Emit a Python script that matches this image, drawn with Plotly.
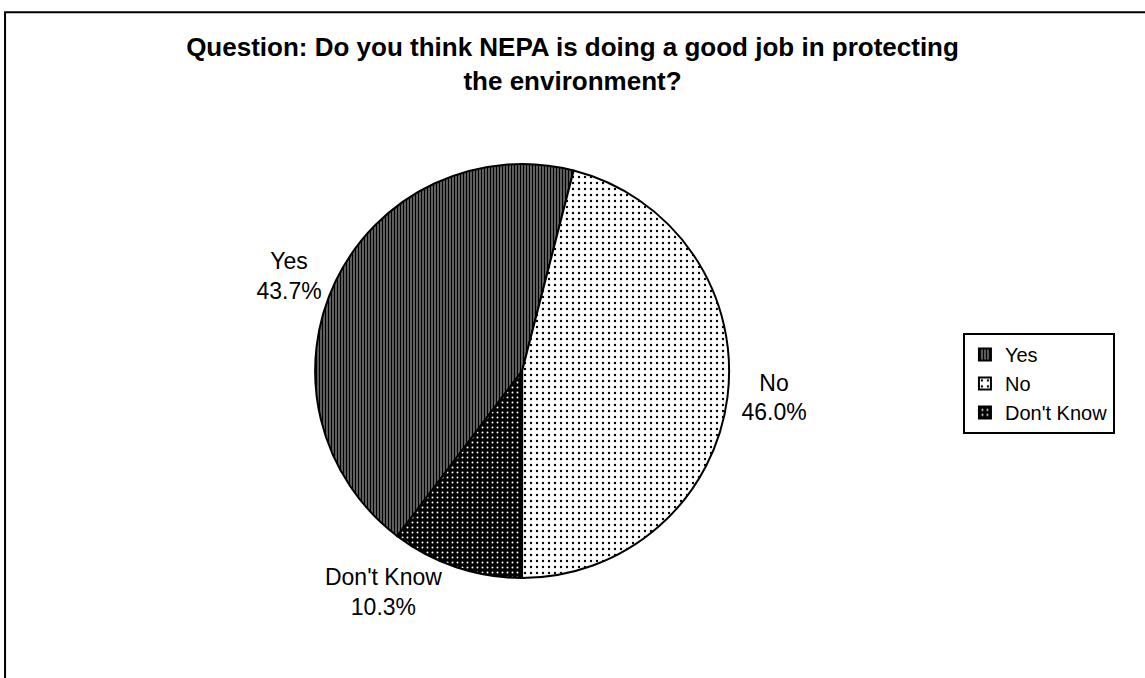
import plotly.graph_objects as go

labels = ["Yes", "No", "Don't Know"]
values = [43.7, 46.0, 10.3]
title_text = "Question: Do you think NEPA is doing a good job in protecting<br>the environment?"

FONT = "Liberation Sans, Arial, sans-serif"

fig = go.Figure()
fig.add_trace(go.Pie(
    labels=labels,
    values=values,
    sort=False,
    direction="clockwise",
    rotation=217.1,
    textposition="outside",
    texttemplate="%{label}<br>%{value:.1f}%",
    textfont=dict(family=FONT, size=23, color="black"),
    hoverinfo="label+percent",
    marker=dict(
        colors=["#555555", "white", "black"],
        line=dict(color="black", width=2),
        pattern=dict(
            shape=["|", ".", "."],
            fgcolor=["black", "black", "white"],
            bgcolor=["#8a8a8a", "white", "black"],
            size=[3, 6, 5],
            solidity=[0.55, 0.12, 0.12],
            fillmode="replace",
        ),
    ),
    domain=dict(x=[0.275, 0.637], y=[0.1475, 0.7581]),
    showlegend=True,
))

fig.update_layout(
    width=1145,
    height=678,
    margin=dict(l=0, r=0, t=0, b=0),
    paper_bgcolor="white",
    plot_bgcolor="white",
    font=dict(family=FONT, color="black"),
    title=dict(
        text="<b>" + title_text + "</b>",
        x=0.5, xanchor="center",
        y=0.917, yanchor="top",
        font=dict(family=FONT, size=26, color="black"),
    ),
    legend=dict(
        x=0.841, xanchor="left",
        y=0.509, yanchor="top",
        bordercolor="black",
        borderwidth=2,
        bgcolor="white",
        font=dict(family=FONT, size=20, color="black"),
        itemwidth=30,
        tracegroupgap=0,
    ),
    shapes=[dict(
        type="rect", xref="paper", yref="paper",
        x0=0.0044, x1=1.02, y0=-0.05, y1=0.982,
        line=dict(color="black", width=2),
        fillcolor="rgba(0,0,0,0)",
        layer="below",
    )],
)

fig.write_html("out.html")
